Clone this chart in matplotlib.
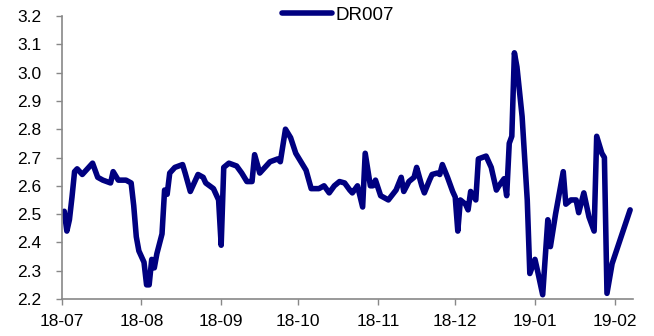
import matplotlib
matplotlib.use("Agg")
from matplotlib import pyplot as plt
import matplotlib.dates as mdates
import numpy as np
import pandas as pd

# DR007 daily fixings, Jul 2018 - Feb 2019
dates = [
    "2018-07-02", "2018-07-03", "2018-07-04", "2018-07-05", "2018-07-06", "2018-07-07",
    "2018-07-09", "2018-07-11", "2018-07-13", "2018-07-15", "2018-07-17", "2018-07-20",
    "2018-07-21", "2018-07-23", "2018-07-26", "2018-07-28", "2018-07-29", "2018-07-30",
    "2018-07-31", "2018-08-01", "2018-08-02", "2018-08-03", "2018-08-04", "2018-08-05",
    "2018-08-06", "2018-08-07", "2018-08-09", "2018-08-10", "2018-08-11", "2018-08-12",
    "2018-08-14", "2018-08-17", "2018-08-18", "2018-08-20", "2018-08-21", "2018-08-23",
    "2018-08-25", "2018-08-26", "2018-08-29", "2018-08-31", "2018-09-01", "2018-09-02",
    "2018-09-04", "2018-09-07", "2018-09-09", "2018-09-11", "2018-09-13", "2018-09-14",
    "2018-09-16", "2018-09-17", "2018-09-20", "2018-09-23", "2018-09-24", "2018-09-26",
    "2018-09-28", "2018-09-30", "2018-10-04", "2018-10-06", "2018-10-09", "2018-10-11",
    "2018-10-13", "2018-10-15", "2018-10-17", "2018-10-19", "2018-10-21", "2018-10-22",
    "2018-10-24", "2018-10-26", "2018-10-27", "2018-10-29", "2018-10-30", "2018-10-31",
    "2018-11-02", "2018-11-05", "2018-11-08", "2018-11-10", "2018-11-11", "2018-11-13",
    "2018-11-15", "2018-11-16", "2018-11-18", "2018-11-19", "2018-11-21", "2018-11-22",
    "2018-11-24", "2018-11-25", "2018-11-26", "2018-11-28", "2018-11-30", "2018-12-01",
    "2018-12-02", "2018-12-03", "2018-12-05", "2018-12-06", "2018-12-07", "2018-12-09",
    "2018-12-10", "2018-12-13", "2018-12-15", "2018-12-17", "2018-12-18", "2018-12-20",
    "2018-12-21", "2018-12-22", "2018-12-23", "2018-12-24", "2018-12-25", "2018-12-27",
    "2018-12-29", "2018-12-30", "2019-01-01", "2019-01-02", "2019-01-04", "2019-01-06",
    "2019-01-07", "2019-01-09", "2019-01-12", "2019-01-13", "2019-01-15", "2019-01-17",
    "2019-01-18", "2019-01-20", "2019-01-22", "2019-01-24", "2019-01-25", "2019-01-27",
    "2019-01-28", "2019-01-29", "2019-01-31", "2019-02-07",
]
dr007 = [
    2.51, 2.44, 2.48, 2.56, 2.65, 2.66,
    2.64, 2.66, 2.68, 2.63, 2.62, 2.61,
    2.65, 2.62, 2.62, 2.61, 2.53, 2.42,
    2.37, 2.35, 2.33, 2.25, 2.25, 2.34,
    2.31, 2.36, 2.43, 2.585, 2.57, 2.645,
    2.665, 2.675, 2.645, 2.58, 2.60, 2.64,
    2.63, 2.61, 2.59, 2.55, 2.39, 2.665,
    2.68, 2.67, 2.645, 2.615, 2.615, 2.71,
    2.645, 2.655, 2.685, 2.695, 2.685, 2.80,
    2.77, 2.715, 2.655, 2.59, 2.59, 2.60,
    2.575, 2.60, 2.615, 2.61, 2.585, 2.575,
    2.60, 2.525, 2.715, 2.60, 2.60, 2.62,
    2.565, 2.55, 2.585, 2.63, 2.58, 2.615,
    2.63, 2.665, 2.60, 2.575, 2.62, 2.64,
    2.645, 2.64, 2.675, 2.63, 2.58, 2.56,
    2.44, 2.55, 2.535, 2.515, 2.58, 2.55,
    2.695, 2.705, 2.665, 2.585, 2.60, 2.625,
    2.565, 2.75, 2.775, 3.07, 3.02, 2.845,
    2.55, 2.29, 2.34, 2.30, 2.215, 2.48,
    2.385, 2.50, 2.65, 2.535, 2.55, 2.55,
    2.505, 2.575, 2.49, 2.44, 2.775, 2.715,
    2.70, 2.22, 2.325, 2.515,
]
y_ticks = [2.2, 2.3, 2.4, 2.5, 2.6, 2.7, 2.8, 2.9, 3.0, 3.1, 3.2]

x = pd.to_datetime(dates)

plt.rcParams['font.family'] = ['Liberation Sans', 'DejaVu Sans']
fig = plt.figure(figsize=(6.54, 3.36), dpi=100)
ax = fig.add_axes([61.7 / 654, 1 - 299 / 336, (632.7 - 61.7) / 654, (299 - 16) / 336])

ax.plot(x, dr007, color='#000080', lw=4.0, solid_joinstyle='round',
        solid_capstyle='round', label='DR007')

ax.set_xlim(pd.Timestamp('2018-07-01'), pd.Timestamp('2019-02-08'))
ax.set_ylim(2.2, 3.2)
ax.set_yticks(y_ticks)
ax.set_yticklabels([f'{v:.1f}' for v in y_ticks])
ax.xaxis.set_major_locator(mdates.MonthLocator())
ax.xaxis.set_major_formatter(mdates.DateFormatter('%y-%m'))

grey = '#888888'
for side in ['top', 'right']:
    ax.spines[side].set_visible(False)
for side in ['left', 'bottom']:
    ax.spines[side].set_color(grey)
    ax.spines[side].set_linewidth(1.2)
ax.tick_params(axis='both', colors=grey, width=1.0, length=4.5,
               labelcolor='black', labelsize=12.5)
ax.tick_params(axis='y', pad=10)
ax.tick_params(axis='x', pad=6)

leg = ax.legend(loc='center', bbox_to_anchor=(338 / 654, 1 - 15 / 336),
                bbox_transform=fig.transFigure, frameon=False, fontsize=13.5,
                handlelength=2.7, handletextpad=0.2, borderpad=0)

fig.savefig('out.png', dpi=100)
